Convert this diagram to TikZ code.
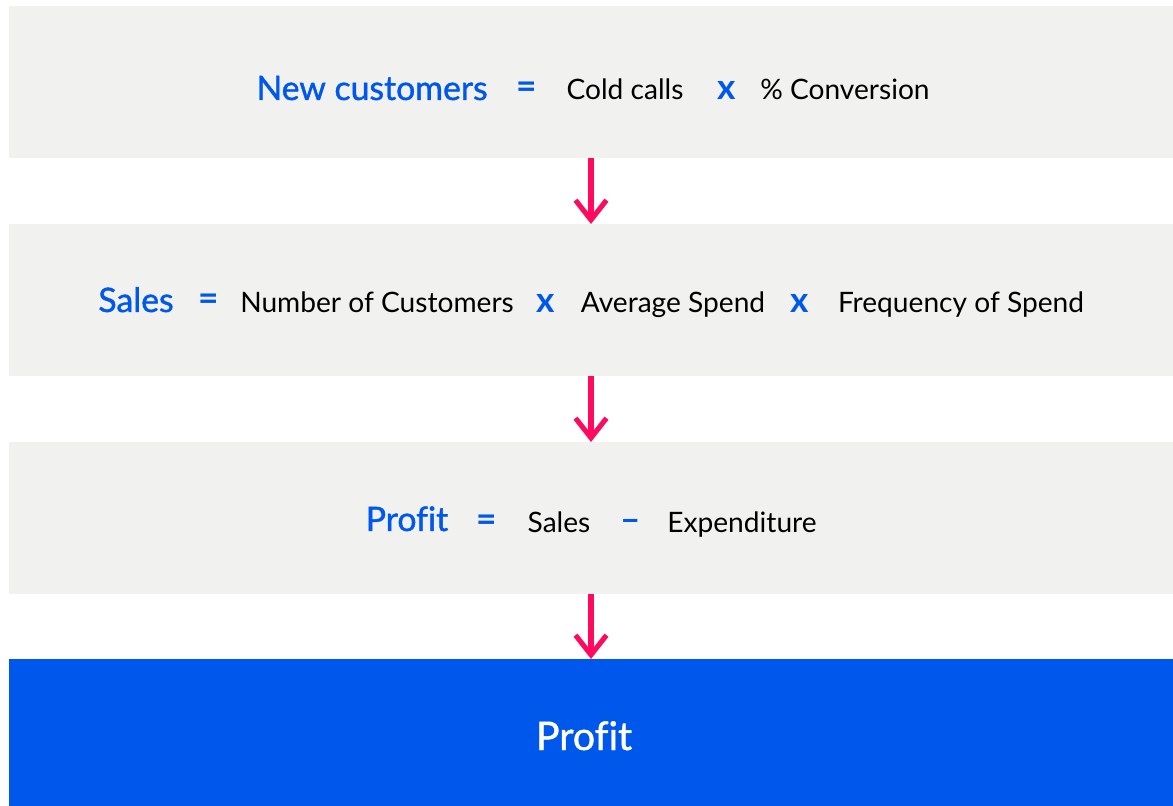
\documentclass[tikz,border=0pt]{standalone}
\usepackage{fontspec}
\setmainfont{Lato}[Ligatures=NoCommon]
\newfontfamily\headfont{Lato}[Ligatures=NoCommon, FakeBold=1.2]
\usetikzlibrary{arrows.meta}
\definecolor{bandgray}{HTML}{F1F1EF}
\definecolor{brandblue}{HTML}{0057EC}
\definecolor{arrowpink}{HTML}{FF0A5E}

\begin{document}
\begin{tikzpicture}[x=0.025cm, y=-0.025cm,
  band/.style={fill=bandgray, minimum width=29.1cm, minimum height=3.8cm, inner sep=0pt, outer sep=0pt},
  total/.style={fill=brandblue, minimum width=29.1cm, minimum height=3.675cm, inner sep=0pt, outer sep=0pt},
  lhs/.style={anchor=base, inner sep=0pt, text=brandblue, font=\headfont\fontsize{24}{28}\selectfont},
  term/.style={anchor=base, inner sep=0pt, font=\fontsize{20}{24}\selectfont},
  op/.style={anchor=base, inner sep=0pt, text=brandblue, font=\fontsize{25}{28}\selectfont\bfseries},
  flow/.style={draw=arrowpink, line width=3.6pt, -{Straight Barb[length=14pt, width=22pt]}}]
\useasboundingbox (0,0) rectangle (1173,806);

% bands
\node[band] (newc) at (591,82) {};
\node[band] (sales) at (591,300) {};
\node[band] (prof) at (591,518) {};
\node[total] (result) at (591,732.5) {};
\node[anchor=base, inner sep=0pt, text=white, font=\headfont\fontsize{28}{32}\selectfont] (total) at (584,750) {Profit};

% new customers
\node[lhs] (nc) at (372,100) {New customers};
\node[op] (nceq) at (527,99) {=};
\node[term] (calls) at (625,100) {Cold calls};
\node[op] (ncx) at (727,100) {x};
\node[term] (conv) at (845,100) {\% Conversion};

% sales
\node[lhs] (sl) at (136,312) {Sales};
\node[op] (sleq) at (209,311) {=};
\node[term] (num) at (377,313) {Number of Customers};
\node[op] (slx) at (546,313) {x};
\node[term] (avg) at (673,313) {Average Spend};
\node[op] (sly) at (800,313) {x};
\node[term] (freq) at (961,313) {Frequency of Spend};

% profit
\node[lhs] (pf) at (407,531) {Profit};
\node[op] (pfeq) at (487,532) {=};
\node[term] (ps) at (559,533) {Sales};
\node[op] (pfm) at (631,532) {--};
\node[term] (exp) at (742,533) {Expenditure};

% arrows
\draw[flow] (newc) -- (sales);
\draw[flow] (sales) -- (prof);
\draw[flow] (prof) -- (result);
\end{tikzpicture}
\end{document}
